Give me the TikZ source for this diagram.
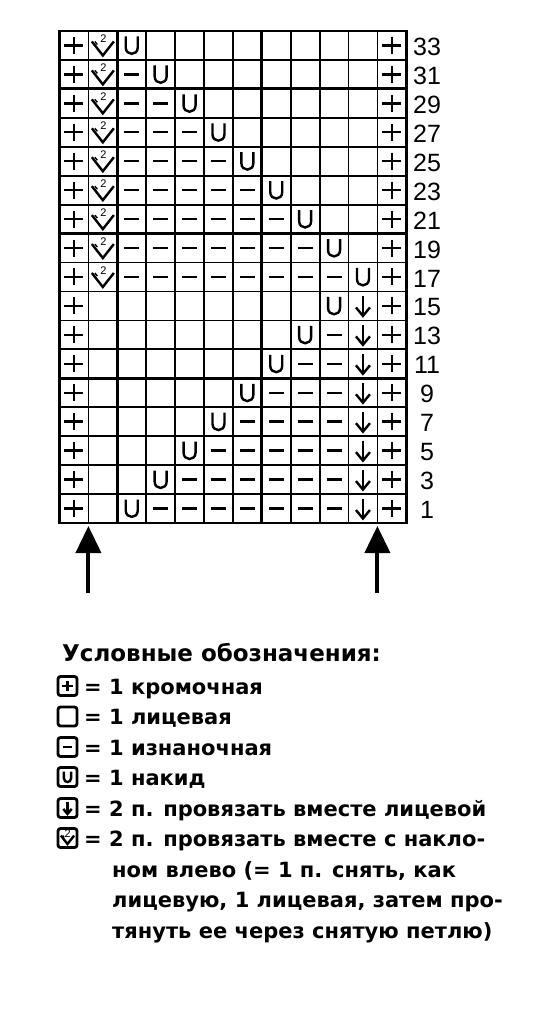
\documentclass[tikz,border=0pt]{standalone}
\usepackage{fontspec}
\setmainfont{DejaVu Sans}
\newfontfamily\numfont{Liberation Sans}
\usetikzlibrary{arrows.meta}
\begin{document}
\begin{tikzpicture}[x=1pt,y=-1pt,
  gridline/.style={line width=1.8pt},
  thickline/.style={line width=2.8pt},
  sym/.style={line width=2.4pt},
  numlabel/.style={font=\numfont\fontsize{25}{25}\selectfont, inner sep=0pt},
  legtext/.style={font=\bfseries\fontsize{21}{21}\selectfont, anchor=base west, inner sep=0pt},
  legtitle/.style={font=\bfseries\fontsize{23}{23}\selectfont, anchor=base west, inner sep=0pt},
  legicon/.style={line width=2.8pt, rounded corners=2.5pt},
  bigarrow/.style={line width=4pt, -{Triangle[width=25pt,length=27pt]}},
  pplus/.pic={\draw[sym] (-9.5,0) -- (9.5,0) (0,-8.5) -- (0,8.5);},
  pdash/.pic={\draw[sym] (-7.5,0) -- (7.5,0);},
  pU/.pic={\draw[sym] (-6,-9) -- (-6,2) .. controls (-6,10.5) and (6,10.5) .. (6,2) -- (6,-9);},
  pdown/.pic={\draw[sym] (0,-10) -- (0,9.5); \draw[sym, line join=miter] (-7,1.5) -- (0,10) -- (7,1.5);},
  pvtwo/.pic={\draw[sym, line join=miter] (-11,-4) -- (0,10) -- (11,-4);
              \draw[line width=1.4pt] (-8,-4) -- (-5.5,-1);
              \node[inner sep=0pt, font=\numfont\fontsize{11}{11}\selectfont] at (0.5,-6.5) {2};},
]
\useasboundingbox (0,0) rectangle (539,1024);
\def\cw{28.9}\def\ch{28.94}\def\gx{59.5}\def\gy{31}
% grid
\foreach \i in {0,...,12} \draw[gridline] ({\gx+\i*\cw},\gy) -- ({\gx+\i*\cw},{\gy+17*\ch});
\foreach \j in {0,...,17} \draw[gridline] (\gx,{\gy+\j*\ch}) -- ({\gx+12*\cw},{\gy+\j*\ch});
\foreach \i in {2,7} \draw[thickline] ({\gx+\i*\cw},\gy) -- ({\gx+\i*\cw},{\gy+17*\ch});
\foreach \j in {2,7,12} \draw[thickline] (\gx,{\gy+\j*\ch}) -- ({\gx+12*\cw},{\gy+\j*\ch});
\draw[thickline] (\gx,\gy) rectangle ({\gx+12*\cw},{\gy+17*\ch});
% cell symbols
\foreach \r in {0,...,16} {
  \pgfmathsetmacro{\yy}{\gy+(\r+0.5)*\ch}
  \pic at ({\gx+0.5*\cw},\yy) {pplus};
  \pic at ({\gx+11.5*\cw},\yy) {pplus};
  \pgfmathtruncatemacro{\num}{33-2*\r}
  \node[numlabel] (num\r) at (427,{\yy+1.5}) {\num};
}
% upper part: rows 0..8
\foreach \r in {0,...,8} {
  \pgfmathsetmacro{\yy}{\gy+(\r+0.5)*\ch}
  \pic at ({\gx+1.5*\cw},\yy) {pvtwo};
  \pgfmathtruncatemacro{\uc}{3+\r}
  \pic at ({\gx+(\uc-0.5)*\cw},\yy) {pU};
  \ifnum\r>0
    \foreach \c in {3,...,\numexpr2+\r\relax} {
      \pic at ({\gx+(\c-0.5)*\cw},\yy) {pdash};
    }
  \fi
}
% lower part: rows 9..16
\foreach \r in {9,...,16} {
  \pgfmathsetmacro{\yy}{\gy+(\r+0.5)*\ch}
  \pgfmathtruncatemacro{\uc}{19-\r}
  \pic at ({\gx+10.5*\cw},\yy) {pdown};
  \pic at ({\gx+(\uc-0.5)*\cw},\yy) {pU};
  \ifnum\r>9
    \foreach \c in {\numexpr\uc+1\relax,...,10} {
      \pic at ({\gx+(\c-0.5)*\cw},\yy) {pdash};
    }
  \fi
}
% arrows
\coordinate (aLs) at ({\gx+\cw},593);
\coordinate (aLe) at ({\gx+\cw},526);
\coordinate (aRs) at ({\gx+11*\cw},593);
\coordinate (aRe) at ({\gx+11*\cw},526);
\draw[bigarrow] (aLs) -- (aLe);
\draw[bigarrow] (aRs) -- (aRe);
% legend
\node[legtitle] (ltitle) at (62,661) {Условные обозначения:};
\def\icx{67.5}
\foreach \yc in {686,716.5,747,777,808,838} {
  \draw[legicon] (\icx-9.5,\yc-9.5) rectangle (\icx+9.5,\yc+9.5);
}
\pic[scale=0.55] at (\icx,686) {pplus};
\pic[scale=0.6] at (\icx,747) {pdash};
\pic[scale=0.6] at (\icx,777) {pU};
\pic[scale=0.6] at (\icx,808) {pdown};
\pic[scale=0.6] at (\icx,838) {pvtwo};
\node[legtext] (l1) at (84,694) {= 1 кромочная};
\node[legtext] (l2) at (84,724.5) {= 1 лицевая};
\node[legtext] (l3) at (84,755) {= 1 изнаночная};
\node[legtext] (l4) at (84,785) {= 1 накид};
\node[legtext] (l5) at (84,816) {= 2 п. провязать вместе лицевой};
\node[legtext] (l6) at (84,846) {= 2 п. провязать вместе с накло-};
\node[legtext] (l7) at (112,877) {ном влево (= 1 п. снять, как};
\node[legtext] (l8) at (112,907) {лицевую, 1 лицевая, затем про-};
\node[legtext] (l9) at (112,938) {тянуть ее через снятую петлю)};
\end{tikzpicture}
\end{document}
